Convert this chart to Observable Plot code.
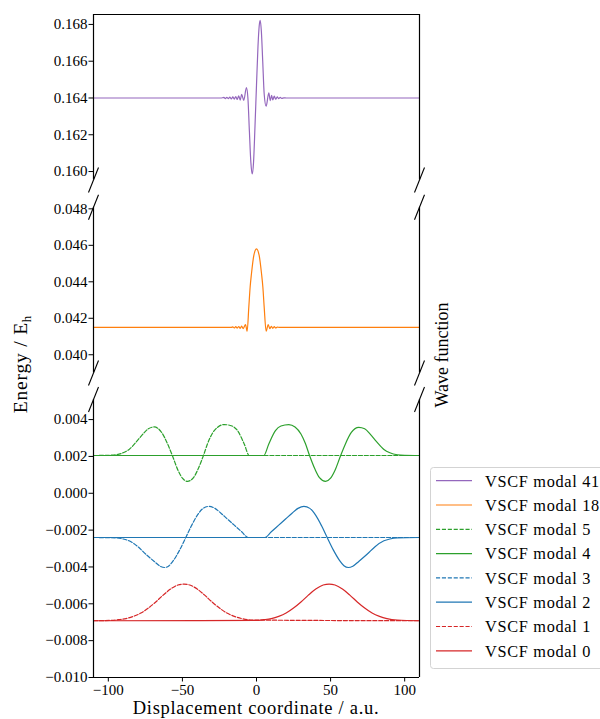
<!DOCTYPE html>
<html>
<head>
<meta charset="utf-8">
<script src="https://cdn.jsdelivr.net/npm/d3@7"></script>
<script src="https://cdn.jsdelivr.net/npm/@observablehq/plot@0.6"></script>
<style>
  html, body { margin: 0; padding: 0; background: #fff; overflow: hidden; }
  #fig { position: relative; width: 600px; height: 719px; overflow: hidden; }
  #fig > svg { position: absolute; left: 0; top: 0; }
  #fig svg text { font-family: "Liberation Serif", "Times New Roman", serif !important; }
  #fig svg.ticks text { font-size: 15px !important; }
</style>
</head>
<body>
<div id="fig"></div>
<script>
// ---- VSCF modals: displacement coordinate (a.u.) and energy-shifted wave functions (E_h) ----
const modal41X = [-110, -24, -22, -21, -20, -19, -18, -17, -16, -15, -14, -13, -12, -11, -10, -8.6, -6.8, -5.8, -4.8, -3.8, -2.9, -2.0, -1.0, 0, 1.0, 1.8, 2.5, 3.3, 4.2, 5.2, 6.5, 8.3, 9.3, 10.2, 11, 12, 13, 14, 15, 16, 17, 18.5, 20, 110];
const modal41Y = [0.16400, 0.16400, 0.16403, 0.16397, 0.16404, 0.16396, 0.16405, 0.16395, 0.16406, 0.16394, 0.16408, 0.16392, 0.16412, 0.16388, 0.16420, 0.16387, 0.16456, 0.16400, 0.16220, 0.16050, 0.15987, 0.16050, 0.16250, 0.16470, 0.16680, 0.16790, 0.16822, 0.16760, 0.16600, 0.16420, 0.16355, 0.16428, 0.16385, 0.16415, 0.16390, 0.16410, 0.16393, 0.16406, 0.16396, 0.16404, 0.16398, 0.16401, 0.16400, 0.16400];

const modal18X = [-110, -17, -16, -15, -14, -13, -12, -11, -10, -9, -7.4, -6.3, -5.2, -4.3, -3.4, -1.8, 0, 1.8, 3.4, 4.3, 5.2, 6.5, 7.9, 9, 10, 11, 12, 13, 14, 15.5, 110];
const modal18Y = [0.04150, 0.04150, 0.04153, 0.04147, 0.04154, 0.04146, 0.04155, 0.04145, 0.04157, 0.04143, 0.04166, 0.04129, 0.04260, 0.04370, 0.04444, 0.04545, 0.04581, 0.04545, 0.04444, 0.04370, 0.04260, 0.04129, 0.04166, 0.04143, 0.04156, 0.04145, 0.04154, 0.04147, 0.04152, 0.04150, 0.04150];

const modal5X = [-110, -100, -95, -90, -86, -81, -77, -73, -69, -64, -60, -56.8, -53, -50, -46.6, -42.5, -39.5, -35.8, -33, -30, -26, -21.8, -16.5, -12.8, -8.3, -4.9, 110];
const modal5Y = [0.00205, 0.00206, 0.00209, 0.00220, 0.00238, 0.00280, 0.00318, 0.00350, 0.00360, 0.00330, 0.00268, 0.00205, 0.00125, 0.00082, 0.00065, 0.00085, 0.00130, 0.00205, 0.00270, 0.00322, 0.00360, 0.00373, 0.00365, 0.00340, 0.00268, 0.00205, 0.00205];

const modal4X = [-110, 4.9, 8.3, 12.8, 16.5, 21.8, 26, 30, 33, 35.8, 39.5, 42.5, 46.6, 50, 53, 56.8, 60, 64, 69, 73, 77, 81, 86, 90, 95, 100, 110];
const modal4Y = [0.00205, 0.00205, 0.00268, 0.00340, 0.00365, 0.00373, 0.00360, 0.00322, 0.00270, 0.00205, 0.00130, 0.00085, 0.00065, 0.00082, 0.00125, 0.00205, 0.00268, 0.00330, 0.00358, 0.00350, 0.00318, 0.00280, 0.00238, 0.00220, 0.00209, 0.00206, 0.00205];

const modal3X = [-110, -95, -90, -86, -80, -74.8, -69, -65, -62, -59, -56, -52, -47.7, -44, -40, -36, -32, -28, -24, -19.6, -15, -10, -5.6, 110];
const modal3Y = [-0.00240, -0.00242, -0.00248, -0.00258, -0.00290, -0.00330, -0.00370, -0.00396, -0.00403, -0.00393, -0.00364, -0.00310, -0.00240, -0.00178, -0.00120, -0.00082, -0.00071, -0.00082, -0.00108, -0.00140, -0.00173, -0.00209, -0.00240, -0.00240];

const modal2X = [-110, 5.6, 10, 15, 19.6, 24, 28, 32, 36, 40, 44, 47.7, 52, 56, 59, 62, 65, 69, 74.8, 80, 86, 90, 95, 110];
const modal2Y = [-0.00240, -0.00240, -0.00209, -0.00173, -0.00140, -0.00108, -0.00082, -0.00071, -0.00082, -0.00120, -0.00178, -0.00240, -0.00310, -0.00364, -0.00393, -0.00403, -0.00396, -0.00370, -0.00330, -0.00290, -0.00258, -0.00248, -0.00242, -0.00240];

const modal1X = [-110, -98, -93, -88, -83, -78, -73, -68, -63, -58, -53, -49, -45, -40, -35, -30, -25, -20, -15, -10, -3, 110];
const modal1Y = [-0.00692, -0.00690, -0.00686, -0.00680, -0.00668, -0.00650, -0.00623, -0.00590, -0.00553, -0.00520, -0.00498, -0.00493, -0.00498, -0.00520, -0.00553, -0.00590, -0.00623, -0.00650, -0.00668, -0.00680, -0.00688, -0.00692];

const modal0X = [-110, 0, 5, 10, 15, 20, 25, 30, 35, 40, 45, 49, 53, 58, 63, 68, 73, 78, 83, 88, 95, 110];
const modal0Y = [-0.00692, -0.00690, -0.00686, -0.00680, -0.00668, -0.00650, -0.00623, -0.00590, -0.00553, -0.00520, -0.00498, -0.00493, -0.00498, -0.00520, -0.00553, -0.00590, -0.00623, -0.00650, -0.00668, -0.00680, -0.00688, -0.00692];

// legend order, labels and which axis segment each curve lives in
const labels = ["VSCF modal 41", "VSCF modal 18", "VSCF modal 5", "VSCF modal 4", "VSCF modal 3", "VSCF modal 2", "VSCF modal 1", "VSCF modal 0"];
const seriesX = [modal41X, modal18X, modal5X, modal4X, modal3X, modal2X, modal1X, modal0X];
const seriesY = [modal41Y, modal18Y, modal5Y, modal4Y, modal3Y, modal2Y, modal1Y, modal0Y];
const segmentOf = ["upper", "middle", "lower", "lower", "lower", "lower", "lower", "lower"];

// axis ranges and ticks for the three segments of the broken energy axis
const xDomain = [-110, 110];
const xTicks = [-100, -50, 0, 50, 100];
const upperDomain = [0.15954, 0.16854];
const upperTicks = [0.160, 0.162, 0.164, 0.166, 0.168];
const middleDomain = [0.03900, 0.04809];
const middleTicks = [0.040, 0.042, 0.044, 0.046, 0.048];
const lowerDomain = [-0.01000, 0.00509];
const lowerTicks = [-0.010, -0.008, -0.006, -0.004, -0.002, 0.000, 0.002, 0.004];

// ---- styling ----
const colors = ["#9467bd", "#ff7f0e", "#2ca02c", "#2ca02c", "#1f77b4", "#1f77b4", "#d62728", "#d62728"];
const dashed = [false, false, true, false, true, false, true, false];
const DASH = "4.1,1.8";
const W = 600, H = 719;
const left = 93, right = 419;
const FONT = '"Liberation Serif", "Times New Roman", serif';

// a short slanted stroke marking where the energy axis is cut
const breakSymbol = {
  draw(ctx) { ctx.moveTo(-5, 12.5); ctx.lineTo(5, -12.5); }
};

function segment(name, domain, ticks, top, bottom, edges, showX) {
  const marks = [];
  labels.forEach((label, i) => {
    if (segmentOf[i] !== name) return;
    const pts = seriesX[i].map((x, j) => ({x, y: seriesY[i][j]}));
    marks.push(Plot.line(pts, {
      x: "x", y: "y", curve: "monotone-x",
      stroke: colors[i], strokeWidth: 1.2,
      strokeDasharray: dashed[i] ? DASH : null
    }));
  });
  // spines
  marks.push(Plot.ruleX(xDomain, {stroke: "#000", strokeWidth: 1.2}));
  if (edges.includes("top")) marks.push(Plot.ruleY([domain[1]], {stroke: "#000", strokeWidth: 1.2}));
  if (edges.includes("bottom")) marks.push(Plot.ruleY([domain[0]], {stroke: "#000", strokeWidth: 1.2}));
  // break markers at the cut edges
  const cuts = [];
  if (edges.includes("cutTop")) xDomain.forEach(x => cuts.push({x, y: domain[1]}));
  if (edges.includes("cutBottom")) xDomain.forEach(x => cuts.push({x, y: domain[0]}));
  if (cuts.length) marks.push(Plot.dot(cuts, {x: "x", y: "y", symbol: breakSymbol, stroke: "#000", fill: "none", strokeWidth: 1.1}));

  const svg = Plot.plot({
    width: W, height: H,
    marginLeft: left, marginRight: W - right,
    marginTop: top, marginBottom: H - bottom,
    style: {background: "transparent", overflow: "visible", fontFamily: FONT, fontSize: "15px", color: "#000"},
    x: showX
      ? {domain: xDomain, ticks: xTicks, tickSize: 4.5, tickPadding: 2, label: null}
      : {domain: xDomain, axis: null},
    y: {domain, ticks, tickFormat: ".3f", tickSize: 4.5, tickPadding: 1.5, label: null},
    marks
  });
  svg.classList.add("ticks");
  return svg;
}

const fig = document.getElementById("fig");
fig.append(segment("upper", upperDomain, upperTicks, 14, 179.5, ["top", "cutBottom"], false));
fig.append(segment("middle", middleDomain, middleTicks, 206.7, 372.5, ["cutTop", "cutBottom"], false));
fig.append(segment("lower", lowerDomain, lowerTicks, 399, 677, ["bottom", "cutTop"], true));

// ---- axis titles and legend ----
const overlay = d3.create("svg")
  .attr("width", W).attr("height", H)
  .style("font-family", FONT)
  .style("pointer-events", "none");

overlay.append("text")
  .attr("x", (left + right) / 2).attr("y", 714)
  .attr("text-anchor", "middle")
  .attr("font-size", 18.5).attr("letter-spacing", 0.7)
  .text("Displacement coordinate / a.u.");

const ylab = overlay.append("text")
  .attr("transform", "translate(26.5,364) rotate(-90)")
  .attr("text-anchor", "middle")
  .attr("font-size", 19.5).attr("letter-spacing", 0.8);
ylab.append("tspan").text("Energy / E");
ylab.append("tspan").attr("font-size", 13).attr("dy", 4).text("h");

overlay.append("text")
  .attr("transform", "translate(448,355) rotate(-90)")
  .attr("text-anchor", "middle")
  .attr("font-size", 18)
  .text("Wave function");

const legend = overlay.append("g");
legend.append("rect")
  .attr("x", 430.5).attr("y", 467.5).attr("width", 200).attr("height", 201)
  .attr("rx", 3)
  .attr("fill", "#fff").attr("fill-opacity", 0.8)
  .attr("stroke", "#d3d3d3").attr("stroke-width", 1);
labels.forEach((label, i) => {
  const cy = 480.7 + i * 24.3;
  legend.append("line")
    .attr("x1", 436).attr("x2", 472).attr("y1", cy).attr("y2", cy)
    .attr("stroke", colors[i]).attr("stroke-width", 1.2)
    .attr("stroke-dasharray", dashed[i] ? DASH : null);
  legend.append("text")
    .attr("x", 485).attr("y", cy + 5.8)
    .attr("font-size", 16.3).attr("letter-spacing", 0.7)
    .text(label);
});

fig.append(overlay.node());
</script>
</body>
</html>
